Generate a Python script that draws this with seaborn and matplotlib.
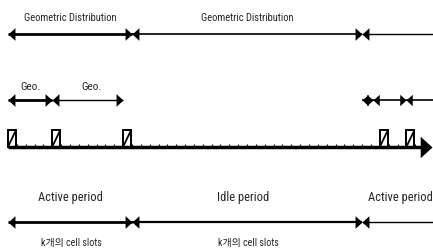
import matplotlib
matplotlib.use("Agg")
import matplotlib.pyplot as plt
from matplotlib import font_manager as fm
import seaborn as sns

sns.set_theme(style="white")

# pick a narrow sans face if one is around
names = {f.name for f in fm.fontManager.ttflist}
stretch = "normal"
face = "Liberation Sans"
for cand in ["Liberation Sans Narrow", "Roboto Condensed", "Open Sans Condensed", "Arial Narrow"]:
    if cand in names:
        face = cand
        break
else:
    if any(f.name == "DejaVu Sans" and f.stretch == "condensed" for f in fm.fontManager.ttflist):
        face = "DejaVu Sans"
        stretch = "condensed"
plt.rcParams['font.family'] = [face, 'Noto Sans CJK KR', 'DejaVu Sans']
plt.rcParams['font.stretch'] = stretch

# positions are in cell-slot units along the time axis
n_cells = 47
busy_slots = [0, 5, 13, 42, 45]

# row 1: geometric distribution intervals
geo_long_bounds = [0, 14, 40, 49]
geo_long_labels = ["Geometric Distribution", "Geometric Distribution"]
geo_long_label_x = [7.0, 27.0]

# row 2: short geometric intervals
geo_short_bounds = [0, 5, 13]
geo_short_labels = ["Geo.", "Geo."]
geo_short_label_x = [2.6, 9.4]
geo_tail_bounds = [40, 41.25, 44.9, 49]

# row 4: periods
period_bounds = [0, 14, 40, 49]
period_labels = ["Active period", "Idle period", "Active period"]
period_label_x = [7.0, 26.6, 48.0]
slot_labels = ["k개의 cell slots", "k개의 cell slots"]
slot_label_x = [7.2, 27.2]

# elongated arrow heads (tip at the data point)
head_r = [(0, 0), (-1.1, 1), (-1.1, -1), (0, 0)]
head_l = [(0, 0), (1.1, 1), (1.1, -1), (0, 0)]


def arrow_row(ax, bounds, y, widths, right_end=None, ms=10):
    for i in range(len(bounds) - 1):
        a, b = bounds[i], bounds[i + 1]
        ax.plot([a, b], [y, y], color="black", lw=widths[i], solid_capstyle="butt")
        ax.plot(a, y, marker=head_l, ms=ms, color="black", mew=0)
        if b < n_cells or right_end:
            ax.plot(b, y, marker=head_r, ms=ms, color="black", mew=0)


fig = plt.figure(figsize=(4.33, 2.49), dpi=100)
ax = fig.add_axes([0, 0, 1, 1])
ax.set_xlim(-0.9, 48.0)
ax.set_ylim(249, 0)
ax.axis("off")

# row 1
arrow_row(ax, geo_long_bounds, 34, [2.0, 1.2, 1.0])
for lbl, x in zip(geo_long_labels, geo_long_label_x):
    ax.text(x, 18, lbl, ha="center", va="center", fontsize=7.6)

# row 2
arrow_row(ax, geo_short_bounds, 100, [2.0, 1.0], right_end=True)
arrow_row(ax, geo_tail_bounds, 100, [1.2, 1.2, 1.2], ms=9)
for lbl, x in zip(geo_short_labels, geo_short_label_x):
    ax.text(x, 87, lbl, ha="center", va="center", fontsize=8)

# row 3: time axis with cell slots
ticks = list(range(1, n_cells))
ax.vlines(ticks, 144, 147, color="black", lw=0.8)
ax.plot([0, 47.3], [147, 147], color="black", lw=2.5, solid_capstyle="butt")
ax.plot(47.9, 147, marker=head_r, ms=17, color="black", mew=0)
ax.bar(busy_slots, -17, bottom=147, width=0.9, align="edge",
       color="white", edgecolor="black", linewidth=1.4)
for s in busy_slots:
    ax.plot([s + 0.1, s + 0.8], [145, 132], color="black", lw=1.3)

# row 4
arrow_row(ax, period_bounds, 222, [2.0, 1.6, 1.0])
for lbl, x in zip(period_labels, period_label_x):
    ha = "right" if x > 45 else "center"
    ax.text(x, 197, lbl, ha=ha, va="center", fontsize=9)
for lbl, x in zip(slot_labels, slot_label_x):
    ax.text(x, 243, lbl, ha="center", va="center", fontsize=7.2)

fig.savefig("out.png", dpi=100)
